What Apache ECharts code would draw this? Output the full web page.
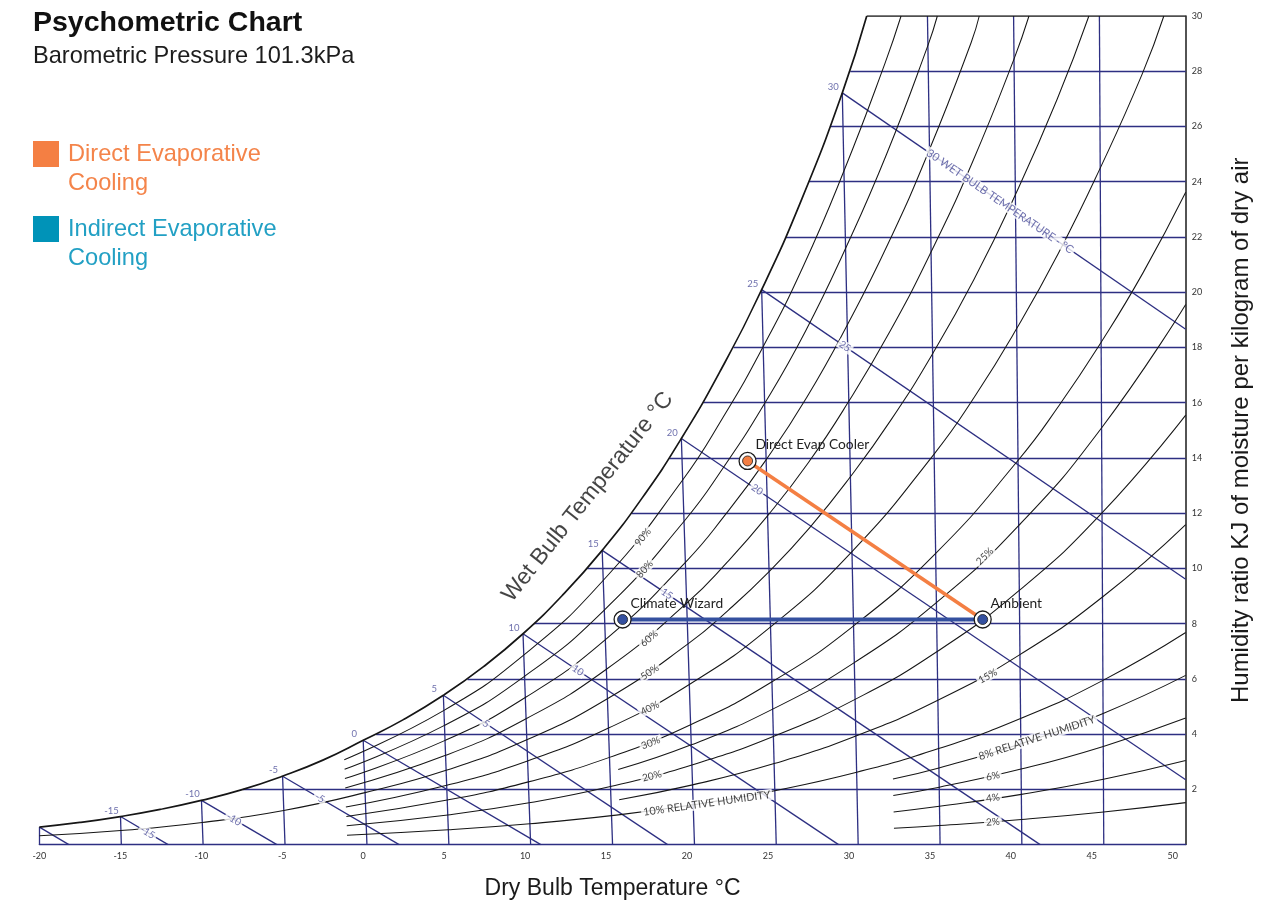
<!DOCTYPE html>
<html><head><meta charset="utf-8">
<script src="https://cdn.jsdelivr.net/npm/echarts@6/dist/echarts.min.js"></script>
<style>html,body{margin:0;padding:0;background:#fff}#c{width:1278px;height:904px}</style>
</head><body><div id="c"></div>
<script>
// ---------------- DATA ----------------
// x = position on the dry-bulb axis (°C), y = humidity ratio (g/kg)
const dryBulbTicks = [-20,-15,-10,-5,0,5,10,15,20,25,30,35,40,45,50];
const humidityTicks = [2,4,6,8,10,12,14,16,18,20,22,24,26,28,30];

// dry-bulb lines: bottom end (on W=0) and top end
const dryBulbLineValues = [-20,-15,-10,-5,0,5,10,15,20,25,30,35,40,45];
const dryBulbBottomX = [-20.0,-14.94,-9.89,-4.83,0.23,5.29,10.34,15.40,20.46,25.51,30.57,35.63,40.68,45.74];
const dryBulbTop = [[-20.0,0.634],[-14.99,1.016],[-9.99,1.600],[-4.98,2.476],[0.0,3.776],[4.95,5.405],[9.87,7.634],[14.76,10.653],[19.65,14.703],[24.61,20.092],[29.59,27.217],[34.85,30],[40.17,30],[45.47,30]];

// humidity-ratio lines: level and where each meets the saturation curve
const humidityLevels = [2,4,6,8,10,12,14,16,18,20,22,24,26,28,30];
const humidityLineStartX = [-7.43,0.80,6.44,10.55,13.84,16.57,18.91,21.0,22.87,24.55,26.11,27.54,28.85,30.08,31.1];

// wet-bulb lines: start on saturation, end on bottom / right edge
const wetBulbValues = [-20,-15,-10,-5,0,5,10,15,20,25,30];
const wetBulbStart = [[-20.0,0.634],[-14.99,1.016],[-9.99,1.600],[-4.98,2.476],[0.0,3.776],[4.95,5.405],[9.87,7.634],[14.76,10.653],[19.65,14.703],[24.61,20.092],[29.59,27.217]];
const wetBulbEnd = [[-18.18,0],[-12.05,0],[-5.33,0],[2.22,0],[10.97,0],[18.80,0],[29.36,0],[41.81,0],[50.8,2.35],[50.8,9.61],[50.8,18.66]];

// saturation (100%) and relative-humidity curves
const saturation = [[-20.0,0.634],[-17.5,0.802],[-15.0,1.016],[-12.54,1.274],[-10.0,1.600],[-7.48,1.99],[-5.0,2.476],[-2.49,3.058],[0.0,3.776],[2.48,4.525],[4.95,5.405],[7.41,6.435],[9.87,7.634],[12.31,9.03],[14.76,10.653],[17.20,12.526],[19.65,14.703],[22.12,17.220],[24.61,20.092],[27.10,23.386],[29.59,27.217],[31.1,30.0]];
const rh90 = [[-1.17,3.07],[4.99,4.860],[9.91,6.862],[14.83,9.571],[19.73,13.201],[22.21,15.456],[24.70,18.025],[27.20,20.968],[29.69,24.388],[32.22,28.275],[33.22,30.0]];
const rh80 = [[-1.15,2.73],[5.02,4.316],[9.96,6.093],[14.89,8.493],[19.82,11.707],[22.30,13.70],[24.79,15.971],[27.30,18.570],[29.79,21.584],[32.33,25.006],[34.88,28.937],[35.46,30.0]];
const rh70 = [[-1.13,2.39],[5.06,3.773],[10.01,5.324],[14.96,7.419],[19.90,10.219],[22.38,11.955],[24.88,13.930],[27.39,16.188],[29.89,18.805],[32.43,21.771],[34.98,25.173],[37.55,29.04],[38.05,30.0]];
const rh60 = [[-1.11,2.05],[5.09,3.232],[10.06,4.558],[15.02,6.348],[19.98,8.739],[22.47,10.219],[24.97,11.901],[27.49,13.824],[29.99,16.049],[32.52,18.568],[35.07,21.453],[37.64,24.726],[40.20,28.449],[41.12,30.0]];
const rh50 = [[-20.0,0.317],[-14.97,0.508],[-9.94,0.799],[-4.91,1.236],[0.11,1.882],[5.12,2.691],[10.10,3.794],[15.08,5.281],[20.06,7.266],[22.56,8.493],[25.07,9.887],[27.58,11.478],[30.09,13.317],[32.62,15.397],[35.17,17.775],[37.73,20.469],[40.28,23.528],[42.86,26.984],[44.82,30.0]];
const rh40 = [[-1.07,1.36],[5.16,2.150],[10.15,3.031],[15.15,4.218],[20.14,5.799],[25.16,7.884],[30.19,10.608],[35.26,14.140],[37.82,16.269],[40.36,18.682],[42.93,21.402],[45.52,24.493],[48.13,27.921],[49.45,30.0]];
const rh30 = [[-1.04,1.02],[5.19,1.612],[10.20,2.271],[15.21,3.158],[20.22,4.339],[25.25,5.895],[30.29,7.922],[35.36,10.545],[40.44,13.906],[43.00,15.915],[45.58,18.190],[48.17,20.709],[50.80,23.616]];
const rh25 = [[15.75,2.717],[20.26,3.612],[25.29,4.905],[30.33,6.588],[35.40,8.763],[40.48,11.546],[45.60,15.085],[50.80,19.556]];
const rh20 = [[-1.02,0.68],[5.22,1.073],[10.25,1.512],[15.27,2.101],[20.30,2.886],[25.33,3.917],[30.38,5.259],[35.45,6.990],[40.52,9.203],[45.63,12.010],[50.80,15.547]];
const rh15 = [[15.81,1.627],[20.34,2.162],[25.38,2.933],[30.43,3.936],[35.49,5.228],[40.56,6.877],[45.66,8.964],[50.80,11.588]];
const rh10 = [[-1.00,0.34],[5.26,0.536],[10.29,0.755],[15.34,1.049],[20.38,1.440],[25.42,1.953],[30.48,2.619],[35.54,3.476],[40.60,4.567],[45.69,5.947],[50.80,7.677]];
const rh8 = [[32.72,2.373],[35.56,2.777],[40.62,3.649],[45.70,4.749],[50.80,6.127]];
const rh6 = [[32.74,1.778],[35.58,2.080],[40.63,2.733],[45.71,3.555],[50.80,4.584]];
const rh4 = [[32.76,1.184],[35.59,1.386],[40.65,1.819],[45.72,2.366],[50.80,3.048]];
const rh2 = [[32.78,0.592],[35.61,0.692],[40.66,0.908],[45.73,1.181],[50.80,1.520]];
const rhCurveNames = ['90%','80%','70%','60%','50%','40%','30%','25%','20%','15%','10%','8%','6%','4%','2%'];
const rhCurves = [rh90,rh80,rh70,rh60,rh50,rh40,rh30,rh25,rh20,rh15,rh10,rh8,rh6,rh4,rh2];

// process points
const pointNames = ['Ambient','Direct Evap Cooler','Climate Wizard'];
const pointX = [38.26, 23.74, 16.02];
const pointW = [8.15, 13.89, 8.15];
const directPath = ['Ambient','Direct Evap Cooler'];
const indirectPath = ['Ambient','Climate Wizard'];

// ---------------- STYLE / LAYOUT ----------------
const NAVY = '#2d2f82';
const NAVY_TXT = '#4a4c99';
const INK = '#161616';
const ORANGE = '#F47F43';
const BLUE = '#34509f';
const TEAL = '#0093B8';
const SANS = '"Liberation Sans", Arial, sans-serif';
const LATO = 'Lato, "Open Sans", sans-serif';
const X_MIN = -20, X_MAX = 50.8;

const chart = echarts.init(document.getElementById('c'), null, {renderer: 'canvas'});
const series = [];

series.push({
  type: 'lines', coordinateSystem: 'cartesian2d', silent: true, z: 1,
  lineStyle: {color: NAVY, width: 1.3, opacity: 1},
  data: dryBulbLineValues.map((t, i) => ({coords: [[dryBulbBottomX[i], 0], dryBulbTop[i]]}))
});
series.push({
  type: 'lines', coordinateSystem: 'cartesian2d', silent: true, z: 1,
  lineStyle: {color: NAVY, width: 1.3, opacity: 1},
  data: humidityLevels.slice(0, -1).map((w, i) => ({coords: [[humidityLineStartX[i], w], [X_MAX, w]]}))
});
series.push({
  type: 'lines', coordinateSystem: 'cartesian2d', silent: true, z: 3,
  lineStyle: {color: INK, width: 1.6, opacity: 1},
  data: [{coords: [[humidityLineStartX[humidityLineStartX.length - 1], 30], [X_MAX, 30]]}]
});
series.push({
  type: 'lines', coordinateSystem: 'cartesian2d', silent: true, z: 2,
  lineStyle: {color: NAVY, width: 1.3, opacity: 1},
  data: wetBulbValues.map((t, i) => ({coords: [wetBulbStart[i], wetBulbEnd[i]]}))
});
series.push({
  name: '100%', type: 'line', data: saturation, smooth: 0.5, showSymbol: false, symbol: 'none',
  silent: true, z: 3, lineStyle: {color: INK, width: 1.7}
});
rhCurves.forEach((c, i) => series.push({
  name: rhCurveNames[i] + ' RH', type: 'line', data: c, smooth: 0.5, showSymbol: false, symbol: 'none',
  silent: true, z: 2, lineStyle: {color: INK, width: 1.05}
}));

// process paths
const ptIndex = n => pointNames.indexOf(n);
series.push({
  name: 'Direct Evaporative Cooling', type: 'line', symbol: 'none', z: 6, color: ORANGE,
  lineStyle: {color: ORANGE, width: 3.6},
  data: directPath.map(n => [pointX[ptIndex(n)], pointW[ptIndex(n)]])
});
series.push({
  name: 'Indirect Evaporative Cooling', type: 'line', symbol: 'none', z: 6, color: TEAL,
  lineStyle: {color: BLUE, width: 4},
  data: indirectPath.map(n => [pointX[ptIndex(n)], pointW[ptIndex(n)]])
});
// markers
series.push({
  type: 'scatter', z: 7, symbolSize: 17, silent: true,
  itemStyle: {color: '#fff', borderColor: '#1a1a1a', borderWidth: 1.3, opacity: 1},
  label: {show: true, formatter: p => p.name, position: [17, -7], align: 'left', verticalAlign: 'middle',
          fontFamily: LATO, fontSize: 13.8, color: '#1e1e1e'},
  data: pointNames.map((n, i) => ({name: n, value: [pointX[i], pointW[i]]}))
});
series.push({
  type: 'scatter', z: 8, symbolSize: 10, silent: true,
  itemStyle: {borderColor: '#1a1a1a', borderWidth: 0.8, opacity: 1},
  data: pointNames.map((n, i) => ({name: n, value: [pointX[i], pointW[i]],
    itemStyle: {color: n === 'Direct Evap Cooler' ? ORANGE : BLUE}}))
});

// saturation-point temperature labels
series.push({
  type: 'scatter', symbolSize: 0, silent: true, z: 5,
  label: {show: true, position: 'inside', offset: [-9, -6], formatter: p => p.name,
          fontFamily: LATO, fontSize: 9.5, color: NAVY_TXT},
  data: wetBulbValues.map((t, i) => t === -20 ? null : ({name: String(t), value: wetBulbStart[i]})).filter(Boolean)
});

// wet-bulb line labels (placed along each line)
const wbLabelFrac = {'-15': 0.57, '-10': 0.43, '-5': 0.32, '5': 0.19, '10': 0.174, '15': 0.1475, '20': 0.15, '25': 0.196, '30': 0.459};
series.push({
  type: 'scatter', symbolSize: 0, silent: true, z: 5,
  label: {show: true, position: 'inside', fontFamily: LATO, fontSize: 10, color: NAVY_TXT,
          backgroundColor: '#fff', padding: [0, 2]},
  data: wetBulbValues.map((t, i) => {
    const f = wbLabelFrac[String(t)];
    if (f === undefined) return null;
    const s = wetBulbStart[i], e = wetBulbEnd[i];
    const txt = t === 30 ? '30 WET BULB TEMPERATURE - °C' : String(t);
    return {name: txt, value: [s[0] + (e[0] - s[0]) * f, s[1] + (e[1] - s[1]) * f],
            label: {formatter: txt, rotate: t < 5 ? -31 : -34.5, fontSize: t === 30 ? 11.2 : 10}};
  }).filter(Boolean)
});

// relative-humidity curve labels
const rhLabelLayout = [
  ['90%', 17.27, 11.13, 51], ['80%', 17.39, 9.97, 48], ['60%', 17.66, 7.46, 40], ['50%', 17.70, 6.24, 34],
  ['40%', 17.70, 4.94, 28], ['30%', 17.76, 3.68, 21], ['20%', 17.83, 2.48, 14],
  ['10% RELATIVE HUMIDITY', 21.22, 1.49, 8],
  ['25%', 38.39, 10.44, 44], ['15%', 38.58, 6.10, 29], ['8% RELATIVE HUMIDITY', 41.61, 3.86, 18],
  ['6%', 38.89, 2.48, 12], ['4%', 38.89, 1.69, 8], ['2%', 38.89, 0.82, 4]
];
series.push({
  type: 'scatter', symbolSize: 0, silent: true, z: 5,
  label: {show: true, position: 'inside', fontFamily: LATO, fontSize: 10, color: '#111',
          backgroundColor: '#fff', padding: [0, 2]},
  data: rhLabelLayout.map(r => ({name: r[0], value: [r[1], r[2]],
    label: {formatter: r[0], rotate: r[3], fontSize: r[0].length > 5 ? 10.8 : 10}}))
});
// "Wet Bulb Temperature °C" along the saturation curve
series.push({
  type: 'scatter', symbolSize: 0, silent: true, z: 5,
  label: {show: true, position: 'inside', formatter: 'Wet Bulb Temperature °C', rotate: 51.5,
          fontFamily: SANS, fontSize: 23, color: '#151515'},
  data: [{name: 'Wet Bulb Temperature °C', value: [13.87, 12.58]}]
});

const option = {
  animation: false,
  backgroundColor: '#fff',
  title: {
    text: 'Psychometric Chart', subtext: 'Barometric Pressure 101.3kPa',
    left: 33, top: 9, padding: 0, itemGap: 6,
    textStyle: {fontFamily: SANS, fontSize: 28.5, fontWeight: 'bold', color: '#111'},
    subtextStyle: {fontFamily: SANS, fontSize: 23.6, color: '#1c1c1c'}
  },
  legend: {
    orient: 'vertical', left: 33, top: 109.75, padding: 0, itemGap: -13.5,
    itemWidth: 26, itemHeight: 26, icon: 'rect', selectedMode: false,
    formatter: n => '\n' + n.replace(' Cooling', '\nCooling'),
    textStyle: {fontFamily: SANS, fontSize: 23.6, lineHeight: 29.5, padding: [0, 0, 0, 4]},
    data: [
      {name: 'Direct Evaporative Cooling', itemStyle: {color: ORANGE}, textStyle: {color: '#F4844A'}},
      {name: 'Indirect Evaporative Cooling', itemStyle: {color: TEAL}, textStyle: {color: '#22A0C4'}}
    ]
  },
  grid: {left: 39.4, right: 1278 - 1185.7, top: 16, bottom: 904 - 844.6, containLabel: false,
         outerBoundsMode: 'none'},
  xAxis: {
    type: 'value', min: X_MIN, max: X_MAX, interval: 5,
    axisLine: {show: true, onZero: false, lineStyle: {color: NAVY, width: 1.4}},
    axisTick: {show: false}, splitLine: {show: false},
    axisLabel: {fontFamily: LATO, fontSize: 9, color: '#333', margin: 7,
                formatter: v => dryBulbTicks.includes(v) ? String(v) : ''},
    name: 'Dry Bulb Temperature °C', nameLocation: 'middle', nameGap: 33,
    nameTextStyle: {fontFamily: SANS, fontSize: 23, color: '#1a1a1a'}
  },
  yAxis: {
    type: 'value', min: 0, max: 30, interval: 2, position: 'right',
    axisLine: {show: true, onZero: false, lineStyle: {color: '#1a1a1a', width: 1.5}},
    axisTick: {show: false}, splitLine: {show: false},
    axisLabel: {fontFamily: LATO, fontSize: 9, color: '#333', margin: 6,
                formatter: v => humidityTicks.includes(v) ? String(v) : ''},
    name: 'Humidity ratio KJ of moisture per kilogram of dry air', nameLocation: 'middle', nameGap: 44,
    nameRotate: 90, nameTextStyle: {fontFamily: SANS, fontSize: 24, color: '#1a1a1a'}
  },
  series: series
};
chart.setOption(option);
</script></body></html>
